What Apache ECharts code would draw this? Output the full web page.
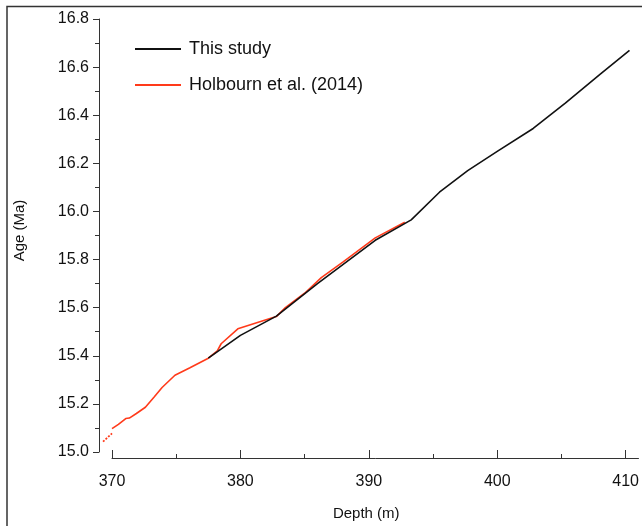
<!DOCTYPE html>
<html>
<head>
<meta charset="utf-8">
<script src="https://cdn.jsdelivr.net/npm/echarts@6/dist/echarts.min.js"></script>
<style>
html,body{margin:0;padding:0;background:#fff;}
#c{width:642px;height:526px;}
</style>
</head>
<body>
<div id="c"></div>
<script>
// Data
const thisStudyDepth = [377.5, 380.0, 382.8, 386.0, 390.5, 393.3, 395.5, 397.7, 400.0, 402.8, 405.3, 408.0, 410.3];
const thisStudyAge   = [15.39, 15.485, 15.565, 15.70, 15.88, 15.965, 16.08, 16.17, 16.25, 16.345, 16.45, 16.57, 16.67];

const holbournDottedDepth = [369.3, 369.65, 370.0];
const holbournDottedAge   = [15.063, 15.08, 15.097];

const holbournDepth = [370.0, 370.5, 371.07, 371.35, 371.9, 372.6, 373.3, 373.9, 374.9, 376.07, 377.5, 378.2, 378.5, 379.8, 382.0, 382.8, 383.5, 385.0, 386.3, 388.0, 390.5, 392.8];
const holbournAge   = [15.097, 15.115, 15.139, 15.141, 15.16, 15.186, 15.23, 15.268, 15.319, 15.35, 15.39, 15.42, 15.45, 15.512, 15.55, 15.563, 15.60, 15.66, 15.725, 15.79, 15.89, 15.955];

const xTickLabels = [370, 380, 390, 400, 410];
const xMinorTicks = [375, 385, 395, 405];
const seriesNames = ['This study', 'Holbourn et al. (2014)'];

const zip = (a, b) => a.map((v, i) => [v, b[i]]);

const textColor = '#111';
const axisColor = '#333';
const font = 'Liberation Sans, Arial, sans-serif';

const chart = echarts.init(document.getElementById('c'), null, {renderer: 'canvas'});
chart.setOption({
  animation: false,
  backgroundColor: '#fff',
  grid: [
    {left: 112, top: 19, width: 527, height: 438},
    {left: 99.15, top: 19, width: 539.85, height: 438}
  ],
  legend: {
    orient: 'vertical',
    left: 135,
    top: 40,
    padding: 0,
    itemWidth: 46,
    itemHeight: 2,
    itemGap: 18,
    icon: 'rect',
    data: seriesNames,
    textStyle: {fontSize: 18, color: textColor, fontFamily: font, padding: [0, 0, 0, 3]}
  },
  xAxis: [{
    type: 'value',
    gridIndex: 0,
    min: 370,
    max: 411,
    offset: 6,
    name: 'Depth (m)',
    nameLocation: 'middle',
    nameGap: 48,
    nameTextStyle: {fontSize: 15, color: textColor, fontFamily: font, padding: [0, 18, 0, 0]},
    axisLine: {show: true, onZero: false, lineStyle: {color: axisColor, width: 1}},
    axisTick: {show: true, inside: true, length: 8, lineStyle: {color: axisColor}, customValues: xTickLabels},
    minorTick: {show: false},
    axisLabel: {fontSize: 16, color: textColor, fontFamily: font, margin: 16, customValues: xTickLabels},
    splitLine: {show: false}
  }, {
    type: 'value',
    gridIndex: 0,
    min: 370,
    max: 411,
    offset: 6,
    position: 'bottom',
    axisLine: {show: false},
    axisTick: {show: true, inside: true, length: 4, lineStyle: {color: axisColor}, customValues: xMinorTicks},
    axisLabel: {show: false},
    splitLine: {show: false}
  }, {
    type: 'value',
    gridIndex: 1,
    min: 369,
    max: 411,
    show: false
  }],
  yAxis: [{
    type: 'value',
    gridIndex: 0,
    min: 15.0,
    max: 16.8,
    interval: 0.2,
    offset: 13,
    name: 'Age (Ma)',
    nameLocation: 'middle',
    nameGap: 72,
    nameTextStyle: {fontSize: 15, color: textColor, fontFamily: font, padding: [0, 0, 0, 10]},
    axisLine: {show: true, onZero: false, lineStyle: {color: axisColor, width: 1}},
    axisTick: {show: true, inside: false, length: 6, lineStyle: {color: axisColor}},
    minorTick: {show: true, splitNumber: 2, length: 4, lineStyle: {color: axisColor}},
    axisLabel: {fontSize: 16, color: textColor, fontFamily: font, margin: 10, formatter: v => v.toFixed(1)},
    splitLine: {show: false}
  }, {
    type: 'value',
    gridIndex: 1,
    min: 15.0,
    max: 16.8,
    show: false
  }],
  graphic: [{
    type: 'polyline',
    shape: {points: [[7, 526], [7, 6.5], [642, 6.5]]},
    style: {stroke: '#333', lineWidth: 1.5, fill: null},
    silent: true
  }],
  series: [{
    name: seriesNames[0],
    type: 'line',
    xAxisIndex: 0, yAxisIndex: 0,
    data: zip(thisStudyDepth, thisStudyAge),
    symbol: 'none',
    clip: false,
    color: '#111',
    lineStyle: {color: '#111', width: 1.6},
    z: 3
  }, {
    name: seriesNames[1],
    type: 'line',
    xAxisIndex: 0, yAxisIndex: 0,
    data: zip(holbournDepth, holbournAge),
    symbol: 'none',
    clip: false,
    color: '#ff3a1a',
    lineStyle: {color: '#ff3a1a', width: 1.6},
    z: 2
  }, {
    name: seriesNames[1] + ' ',
    type: 'line',
    xAxisIndex: 2, yAxisIndex: 1,
    data: zip(holbournDottedDepth, holbournDottedAge),
    symbol: 'none',
    clip: false,
    color: '#ff3a1a',
    lineStyle: {color: '#ff3a1a', width: 1.8, type: [2, 1.5]},
    z: 2
  }]
});
</script>
</body>
</html>
